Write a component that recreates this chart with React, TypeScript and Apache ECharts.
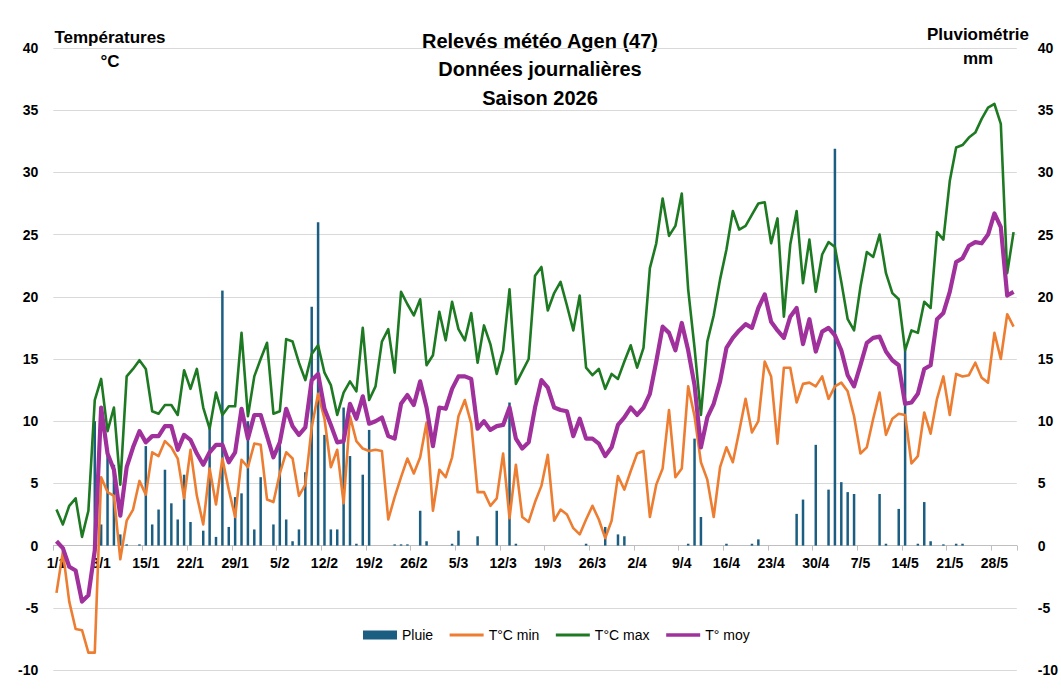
import React, { useEffect, useRef } from "react";
import * as echarts from "echarts";

const MONTH_LENGTHS = [31, 28, 31, 30, 31];
const categories: string[] = [];
MONTH_LENGTHS.forEach((len, m) => {
  for (let d = 1; d <= len; d++) categories.push(`${d}/${m + 1}`);
});

// Pluie (mm) 1/1 -> 31/5
const rain = [
  0, 0, 0, 0, 0, 0, 10.0, 1.7, 7.5, 6.5, 0.9, 0.1, 0, 0.1, 8.0, 1.7, 2.9, 6.1, 3.4, 2.1,
  5.7, 1.9, 0, 1.2, 9.5, 0.7, 20.5, 1.5, 3.9, 4.2, 10.0, 1.3, 5.5, 0, 1.7, 8.1, 2.1, 0.35, 1.3, 5.9,
  19.2, 26.0, 8.9, 1.3, 1.3, 11.1, 7.2, 0.15, 5.7, 9.3, 0, 0, 0, 0.1, 0.1, 0.1, 0, 2.8, 0.35, 0,
  0, 0, 0.15, 1.2, 0, 0, 0.75, 0, 0, 2.8, 0, 11.5, 0.15, 0, 0, 0, 0, 0, 0, 0,
  0, 0, 0, 0.15, 0, 0, 1.5, 0, 0.9, 0.75, 0, 0, 0, 0, 0, 0, 0, 0, 0, 0.15,
  8.6, 2.3, 0, 0, 0, 0.15, 0, 0, 0, 0.15, 0.5, 0, 0, 0, 0, 0, 2.55, 3.7, 0, 8.1,
  0, 4.5, 31.9, 5.1, 4.3, 4.15, 0, 0, 0, 4.15, 0.15, 0, 2.95, 15.7, 0, 0.15, 3.5, 0.35, 0, 0.1,
  0, 0.15, 0.15, 0, 0, 0, 0, 0, 0, 0, 0,
];

const tmin = [
  -3.8, -0.5, -4.5, -6.7, -6.8, -8.6, -8.6, 5.5, 4.3, 4.0, -1.1, 2.0, 2.9, 5.2, 4.1, 7.5, 7.2, 8.4, 7.9, 7.0,
  3.8, 7.7, 4.0, 1.7, 6.2, 3.3, 7.0, 4.5, 2.3, 6.9, 6.3, 8.2, 8.1, 3.7, 3.5, 5.8, 7.5, 7.0, 4.0, 4.9,
  9.5, 12.2, 10.2, 6.3, 7.7, 3.4, 10.4, 8.4, 7.8, 7.6, 7.7, 7.6, 2.1, 3.9, 5.5, 7.0, 5.8, 7.1, 9.9, 2.8,
  6.1, 5.5, 7.1, 10.4, 11.7, 9.8, 4.3, 4.3, 3.2, 3.8, 7.4, 2.2, 6.5, 2.3, 1.9, 3.5, 4.8, 7.3, 2.0, 2.9,
  2.5, 1.4, 0.9, 2.1, 3.2, 2.1, 0.6, 2.0, 5.6, 4.5, 6.0, 7.4, 7.6, 2.3, 4.9, 6.2, 10.9, 5.5, 6.2, 12.8,
  10.4, 6.7, 5.3, 2.3, 6.3, 7.9, 6.7, 9.2, 11.8, 9.1, 10.0, 14.8, 13.6, 8.2, 14.3, 14.3, 11.5, 13.0, 13.1, 12.8,
  13.6, 11.8, 12.8, 13.1, 12.4, 10.4, 7.4, 7.9, 10.2, 12.3, 8.9, 10.2, 10.6, 10.5, 6.6, 7.2, 10.7, 9.0, 11.8, 13.6,
  10.5, 13.8, 13.6, 13.7, 14.7, 13.5, 13.1, 17.1, 15.0, 18.6, 17.6,
];

const tmax = [
  2.9, 1.7, 3.2, 3.8, 0.7, 2.8, 11.7, 13.4, 9.2, 11.1, 4.9, 13.6, 14.2, 14.9, 14.2, 10.8, 10.6, 11.3, 11.3, 10.5,
  14.1, 12.6, 14.2, 11.1, 9.4, 12.3, 10.5, 11.2, 11.2, 17.1, 10.4, 13.6, 15.0, 16.3, 10.6, 10.8, 16.6, 16.4, 14.7, 13.3,
  15.4, 16.1, 13.9, 12.9, 10.5, 12.3, 13.2, 12.4, 17.5, 11.7, 12.8, 16.4, 17.4, 13.9, 20.4, 19.4, 18.5, 19.8, 14.5, 15.3,
  18.8, 16.5, 19.6, 17.4, 16.5, 18.7, 14.7, 17.7, 16.2, 13.8, 15.7, 20.6, 13.0, 14.0, 15.0, 21.7, 22.4, 18.9, 20.3, 21.2,
  19.3, 17.3, 20.1, 14.3, 13.7, 14.2, 12.6, 13.8, 13.4, 14.8, 16.1, 14.3, 15.9, 22.3, 24.3, 27.9, 24.9, 25.7, 28.3, 20.6,
  15.9, 10.5, 16.4, 18.5, 21.4, 23.8, 26.9, 25.4, 25.7, 26.6, 27.5, 27.6, 24.3, 26.3, 18.4, 24.2, 26.9, 21.1, 24.6, 20.4,
  23.4, 24.4, 24.0, 21.2, 18.2, 17.3, 20.8, 23.6, 23.2, 25.0, 21.9, 20.3, 19.8, 15.7, 17.3, 17.1, 19.6, 19.1, 25.2, 24.6,
  29.3, 32.0, 32.2, 32.8, 33.2, 34.3, 35.2, 35.5, 33.9, 21.9, 25.2,
];

const tmoy = [
  0.35, -0.2, -1.7, -2.0, -4.5, -4.0, -0.4, 11.1, 7.4, 6.1, 2.4, 6.3, 7.9, 9.2, 8.3, 8.8, 8.8, 9.6, 9.6, 7.7,
  8.9, 8.5, 7.4, 6.5, 7.5, 8.1, 8.1, 6.7, 7.5, 11.0, 8.6, 10.5, 10.5, 8.8, 7.1, 8.3, 11.0, 9.6, 8.9, 9.5,
  13.3, 13.8, 11.0, 9.7, 8.3, 8.4, 11.4, 10.2, 12.0, 9.8, 10.0, 10.3, 8.8, 8.6, 11.4, 12.1, 11.3, 13.2, 11.1, 8.0,
  11.1, 11.0, 12.6, 13.6, 13.6, 13.4, 9.4, 10.0, 9.3, 9.6, 9.7, 11.1, 8.6, 7.8, 8.3, 11.1, 13.3, 12.7, 11.1, 10.9,
  10.8, 8.8, 10.2, 8.6, 8.6, 8.2, 7.2, 7.9, 9.7, 10.3, 11.1, 10.5, 11.1, 12.2, 14.8, 17.6, 17.1, 15.7, 17.9, 15.7,
  12.9, 7.9, 10.3, 11.4, 13.2, 15.9, 16.7, 17.3, 17.8, 17.5, 19.1, 20.2, 18.0, 17.3, 16.7, 18.4, 19.1, 16.2, 18.2, 15.6,
  17.2, 17.5, 16.9, 15.7, 13.7, 12.8, 14.5, 16.3, 16.7, 16.8, 15.6, 14.9, 14.5, 11.4, 11.5, 12.2, 14.2, 14.5, 18.2, 18.7,
  20.4, 22.8, 23.1, 24.1, 24.4, 24.3, 25.0, 26.7, 25.6, 20.1, 20.4,
];

const TITLE_LINES = ["Relevés météo Agen (47)", "Données journalières", "Saison 2026"];
const FONT = "'Liberation Sans', Arial, sans-serif";

const GRID_TOP = 48;
const GRID_BOTTOM = 21;
const CHART_H = 691;
const Y_MIN = -10;
const Y_MAX = 40;

export default function App() {
  const ref = useRef<HTMLDivElement>(null);
  useEffect(() => {
    document.body.style.margin = "0";
    if (!ref.current) return;
    const chart = echarts.init(ref.current, undefined, { renderer: "svg" });
    const every7 = (i: number) => i % 7 === 0;
    const plotH = CHART_H - GRID_TOP - GRID_BOTTOM;
    const zeroOffset = -(plotH * (0 - Y_MIN)) / (Y_MAX - Y_MIN);
    const hiddenSymbol = { opacity: 0 };
    chart.setOption({
      animation: false,
      backgroundColor: "#ffffff",
      textStyle: { fontFamily: FONT },
      grid: { left: 53.3, right: 41.3, top: GRID_TOP, bottom: GRID_BOTTOM, containLabel: false },
      legend: {
        left: 363,
        top: 628,
        padding: 0,
        itemWidth: 34,
        itemHeight: 9,
        itemGap: 15,
        textStyle: { fontSize: 14, color: "#000", fontFamily: FONT },
        data: [
          { name: "Pluie", icon: "rect" },
          { name: "T°C min", itemStyle: hiddenSymbol, lineStyle: { width: 3 } },
          { name: "T°C max", itemStyle: hiddenSymbol, lineStyle: { width: 3 } },
          { name: "T° moy", itemStyle: hiddenSymbol, lineStyle: { width: 3.5 } },
        ],
      },
      graphic: [
        {
          type: "text",
          x: 540,
          y: 69,
          style: {
            text: TITLE_LINES.join("\n"),
            fontSize: 20,
            fontWeight: "bold",
            fontFamily: FONT,
            fill: "#000",
            align: "center",
            verticalAlign: "middle",
            lineHeight: 28.5,
          },
        },
        {
          type: "text",
          x: 110,
          y: 49,
          style: {
            text: "Températures\n°C",
            fontSize: 17,
            fontWeight: "bold",
            fontFamily: FONT,
            fill: "#000",
            align: "center",
            verticalAlign: "middle",
            lineHeight: 24,
          },
        },
        {
          type: "text",
          x: 978,
          y: 46,
          style: {
            text: "Pluviométrie\nmm",
            fontSize: 17,
            fontWeight: "bold",
            fontFamily: FONT,
            fill: "#000",
            align: "center",
            verticalAlign: "middle",
            lineHeight: 24,
          },
        },
      ],
      xAxis: {
        type: "category",
        data: categories,
        boundaryGap: true,
        position: "bottom",
        offset: zeroOffset,
        axisLine: { onZero: false, lineStyle: { color: "#BFBFBF", width: 1 } },
        axisTick: { show: true, interval: every7, length: 5, lineStyle: { color: "#BFBFBF" } },
        axisLabel: {
          interval: every7,
          margin: 10,
          fontSize: 14,
          fontWeight: "bold",
          color: "#000",
          fontFamily: FONT,
          hideOverlap: false,
        },
        splitLine: { show: false },
      },
      yAxis: [
        {
          type: "value",
          min: Y_MIN,
          max: Y_MAX,
          interval: 5,
          axisLine: { show: false },
          axisTick: { show: false },
          axisLabel: { margin: 15, fontSize: 14, fontWeight: "bold", color: "#000", fontFamily: FONT },
          splitLine: { show: true, lineStyle: { color: "#D9D9D9", width: 1 } },
        },
        {
          type: "value",
          min: Y_MIN,
          max: Y_MAX,
          interval: 5,
          position: "right",
          axisLine: { show: false },
          axisTick: { show: false },
          axisLabel: { margin: 21, fontSize: 14, fontWeight: "bold", color: "#000", fontFamily: FONT },
          splitLine: { show: false },
        },
      ],
      series: [
        {
          name: "Pluie",
          type: "bar",
          yAxisIndex: 1,
          data: rain,
          barWidth: 2.5,
          itemStyle: { color: "#1C5E82" },
        },
        {
          name: "T°C min",
          type: "line",
          data: tmin,
          symbol: "none",
          lineStyle: { color: "#ED7D31", width: 2.6, join: "round" },
          itemStyle: { color: "#ED7D31" },
        },
        {
          name: "T°C max",
          type: "line",
          data: tmax,
          symbol: "none",
          lineStyle: { color: "#1E7A22", width: 2.6, join: "round" },
          itemStyle: { color: "#1E7A22" },
        },
        {
          name: "T° moy",
          type: "line",
          data: tmoy,
          symbol: "none",
          lineStyle: { color: "#A0309B", width: 4.2, join: "round" },
          itemStyle: { color: "#A0309B" },
        },
      ],
    });
    return () => chart.dispose();
  }, []);
  return <div ref={ref} style={{ width: 1061, height: 691 }} />;
}
